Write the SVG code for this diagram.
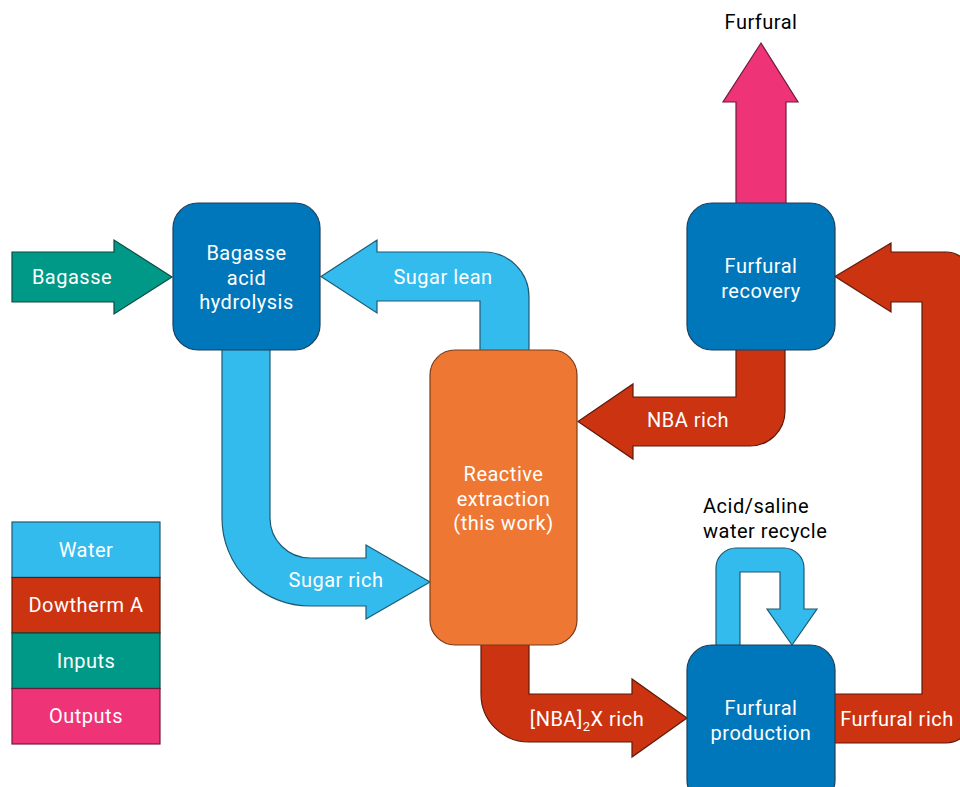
<svg xmlns="http://www.w3.org/2000/svg" width="960" height="787" viewBox="0 0 960 787">
<style>
text{font-family:Roboto,"Liberation Sans",sans-serif;font-size:20px;letter-spacing:0.5px;text-anchor:middle;fill:#fff}
.dark{fill:#000}
.start{text-anchor:start}
.box{fill:#0077BB;stroke:#1d3f5a;stroke-width:1.2}
.cyan{fill:#33BBEE;stroke:#1f5a73;stroke-width:1.2}
.red{fill:#CC3311;stroke:#5e1a0a;stroke-width:1.2}
.teal{fill:#009988;stroke:#0d4a42;stroke-width:1.2}
.pink{fill:#EE3377;stroke:#6e1a3c;stroke-width:1.2}
.orange{fill:#EE7733;stroke:#7a3d18;stroke-width:1.2}
</style>
<rect width="960" height="787" fill="#fff"/>
<g id="connectors">
  <path class="teal" d="M12,252 H114 V240 L172,277 L114,314 V302 H12 Z"/>
  <path class="cyan" d="M529,351 V297 A45,45 0 0 0 484,252 H377 V240 L321,276.5 L377,313 V301 H480 V351 Z"/>
  <path class="cyan" d="M270,349 V518 A40,40 0 0 0 310,558 H366 V545 L430,582 L366,619 V606 H310 A88,88 0 0 1 222,518 V349 Z"/>
  <path class="red" d="M785,349 V411 A35,35 0 0 1 750,446 H633 V459 L578,421.5 L633,384 V397 H736 V349 Z"/>
  <path class="red" d="M481,644 V694 A48,48 0 0 0 529,742 H632 V757 L687,718 L632,679 V694 H529 V644 Z"/>
  <path class="red" d="M834,694 H922 V302 H891 V312 L835,276.5 L891,243 V252 H946 A25,25 0 0 1 971,277 V718 A25,25 0 0 1 946,743 H834 Z"/>
  <path class="pink" d="M736,204 V102 H723 L761,43 L798,102 H786 V204 Z"/>
  <path class="cyan" d="M716,646 V568 A20,20 0 0 1 736,548 H784 A20,20 0 0 1 804,568 V609 H817 L792,645 L767,609 H780 V572 H740 V646 Z"/>
  <text x="72" y="284">Bagasse</text>
  <text x="443" y="284">Sugar lean</text>
  <text x="336" y="587">Sugar rich</text>
  <text x="688" y="427">NBA rich</text>
  <text x="587" y="726">[NBA]<tspan font-size="13" dy="5">2</tspan><tspan dy="-5">X rich</tspan></text>
  <text x="897" y="726">Furfural rich</text>
  <text class="dark" x="761" y="29">Furfural</text>
  <text class="dark start" x="703" y="513">Acid/saline</text>
  <text class="dark start" x="703" y="538">water recycle</text>
</g>
<g id="hydrolysis">
  <rect class="box" x="173" y="203" width="147" height="147" rx="25"/>
  <text x="246.5" y="260">Bagasse</text>
  <text x="246.5" y="285">acid</text>
  <text x="246.5" y="309">hydrolysis</text>
</g>
<g id="extraction">
  <rect class="orange" x="430" y="350" width="147" height="295" rx="25"/>
  <text x="503.5" y="481">Reactive</text>
  <text x="503.5" y="506">extraction</text>
  <text x="503.5" y="530">(this work)</text>
</g>
<g id="recovery">
  <rect class="box" x="687" y="203" width="148" height="147" rx="25"/>
  <text x="761" y="273">Furfural</text>
  <text x="761" y="298">recovery</text>
</g>
<g id="production">
  <rect class="box" x="687" y="645" width="148" height="160" rx="25"/>
  <text x="761" y="715">Furfural</text>
  <text x="761" y="740">production</text>
</g>
<g id="legend">
  <rect class="cyan" x="12" y="522" width="148" height="55.5"/>
  <rect class="red" x="12" y="577.5" width="148" height="55.5"/>
  <rect class="teal" x="12" y="633" width="148" height="55.5"/>
  <rect class="pink" x="12" y="688.5" width="148" height="55.5"/>
  <text x="86" y="557">Water</text>
  <text x="86" y="612">Dowtherm A</text>
  <text x="86" y="668">Inputs</text>
  <text x="86" y="723">Outputs</text>
</g>
</svg>
